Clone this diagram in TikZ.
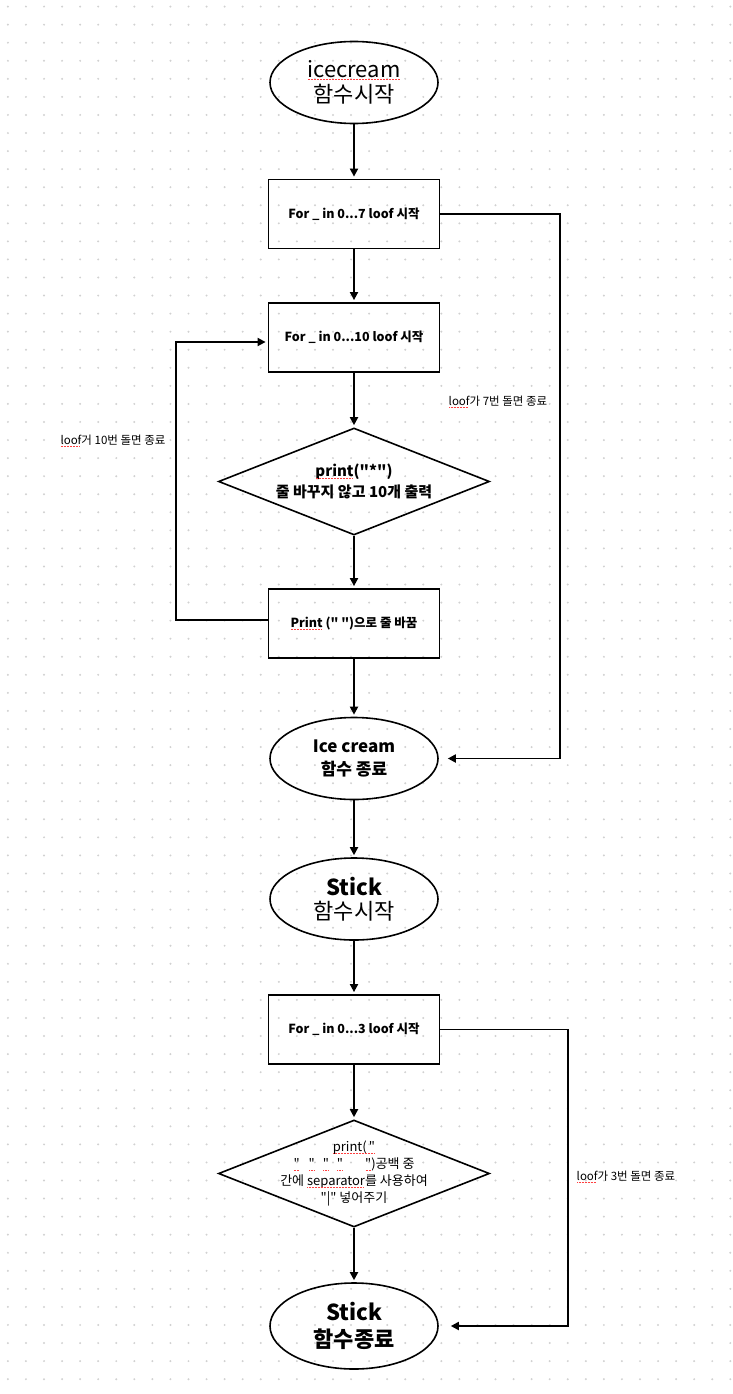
\documentclass[tikz,border=0pt]{standalone}
\usepackage{fontspec}
\setmainfont{Noto Sans CJK KR}[Ligatures=TeXOff]
\usetikzlibrary{shapes.geometric,arrows.meta}
\newsavebox\splbox
\newcommand\spl[1]{\sbox\splbox{#1}\rlap{\usebox\splbox}\raisebox{-2.4pt}{\textcolor{red!75}{\leaders\hbox to 1.5pt{\hss\rule{0.75pt}{0.6pt}\hss}\hskip\wd\splbox}}}
\begin{document}
\begin{tikzpicture}[x=1pt,y=-1pt,
  ell/.style={ellipse,draw,line width=1.6pt,minimum width=168pt,minimum height=82pt,inner sep=0pt,align=center},
  box/.style={rectangle,draw,line width=1.8pt,minimum width=171pt,minimum height=69pt,inner sep=0pt,align=center,font=\fontsize{12.5}{15}\selectfont\bfseries},
  dia/.style={diamond,draw,line width=1.6pt,minimum width=271pt,minimum height=107pt,inner sep=0pt},
  dtext/.style={align=center,inner sep=0pt},
  lbl/.style={font=\fontsize{11.5}{14}\selectfont,inner sep=0pt},
  arr/.style={line width=1.8pt,-{Triangle[length=8pt,width=8pt]},shorten >=2pt},
  ln/.style={line width=1.8pt}]
\useasboundingbox (0,0) rectangle (732,1394);
\fill[white] (0,0) rectangle (732,1394);
\foreach \i in {0,...,40} \foreach \j in {0,...,77} \fill[black!18] (7.9+18.06*\i,6.6+18.06*\j) circle (1.1pt);

% nodes
\node[ell,font=\fontsize{22}{25}\selectfont] (e1) at (354,82.5) {\spl{icecream}\\함수시작};
\node[box] (b1) at (354,214) {For \_ in 0...7 loof 시작};
\node[box] (b2) at (354,337.5) {For \_ in 0...10 loof 시작};
\node[dia] (d1) at (354,481.5) {};
\node[dtext,font=\fontsize{15}{21}\selectfont\bfseries] (t1) at (d1) {\spl{print}("*")\\줄 바꾸지 않고 10개 출력};
\node[box] (b3) at (354,623.5) {\spl{Print} (" ")으로 줄 바꿈};
\node[ell,font=\fontsize{17}{23}\selectfont\bfseries] (e2) at (354,758.5) {Ice cream\\함수 종료};
\node[ell,font=\fontsize{22}{24}\selectfont] (e3) at (354,899) {\textbf{Stick}\\함수시작};
\node[box] (b4) at (354,1029.5) {For \_ in 0...3 loof 시작};
\node[dia] (d2) at (354,1173.5) {};
\node[dtext,font=\fontsize{13}{17}\selectfont] (t2) at (d2) {\spl{print(\,"}\\\spl{"}\hspace{9pt}\spl{"}\hspace{8pt}\spl{"}\hspace{8pt}\spl{"}\hspace{22pt}\spl{"})공백 중\\간에 \spl{separator}를 사용하여\\"|" 넣어주기};
\node[ell,minimum height=86pt,font=\fontsize{22}{27}\selectfont\bfseries] (e4) at (354,1326) {Stick\\함수종료};

\node[lbl] (l1) at (498,402) {\spl{loof}가 7번 돌면 종료};
\node[lbl] (l2) at (113,441) {\spl{loof}거 10번 돌면 종료};
\node[lbl] (l3) at (626,1177) {\spl{loof}가 3번 돌면 종료};

% connectors
\draw[arr] (e1.south) -- (b1.north);
\draw[arr] (b1.south) -- (b2.north);
\draw[arr] (b2.south) -- (d1.north);
\draw[arr] (d1.south) -- (b3.north);
\draw[arr] (b3.south) -- (e2.north);
\draw[arr] (e2.south) -- (e3.north);
\draw[arr] (e3.south) -- (b4.north);
\draw[arr] (b4.south) -- (d2.north);
\draw[arr] (d2.south) -- (e4.north);

\coordinate (c1) at (560,758.5);
\draw[arr,shorten >=9pt] (b1.east) -| (c1) -- (e2.east);

\coordinate (c2a) at (176,620);
\coordinate (c2b) at (176,342);
\draw[arr] (b3.west |- c2a) -- (c2a) -- (c2b) -- (b2.west |- c2b);

\coordinate (c3) at (568,1326);
\draw[arr,shorten >=12pt] (b4.east) -| (c3) -- (e4.east);
\end{tikzpicture}
\end{document}
